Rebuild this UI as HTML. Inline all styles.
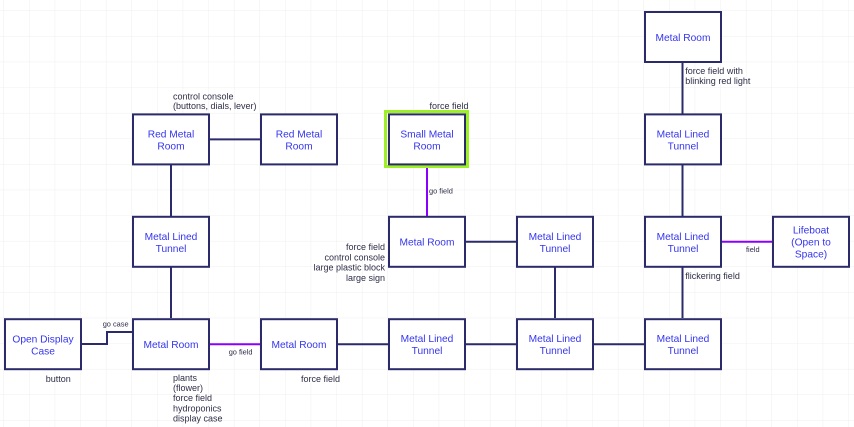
<!DOCTYPE html>
<html><head><meta charset="utf-8"><style>
html,body{margin:0;padding:0;background:#fff;}
svg{display:block;}
.bt{font-family:"Liberation Sans",Arial,sans-serif;font-size:10.2px;fill:#3434f0;text-anchor:middle;}
.lb{font-family:"Liberation Sans",Arial,sans-serif;font-size:9px;fill:#2e2e48;}
.sm{font-family:"Liberation Sans",Arial,sans-serif;font-size:7.4px;fill:#2e2e48;}
.bx{fill:#fff;stroke:#2b2b6b;stroke-width:2;}
.ln{stroke:#2b2b6b;stroke-width:2;fill:none;}
.pl{stroke:#8a00ff;stroke-width:2;fill:none;}
</style></head><body>
<svg width="854" height="427" viewBox="0 0 854 427" xmlns="http://www.w3.org/2000/svg">
<defs>
<pattern id="g" x="3.5" y="10.5" width="25.6" height="25.6" patternUnits="userSpaceOnUse">
<path d="M0 0 H25.6 M0 0 V25.6" stroke="#efefef" stroke-width="1" fill="none"/>
</pattern>
</defs>
<rect width="854" height="427" fill="#fff"/>
<rect width="854" height="427" fill="url(#g)"/>

<!-- connectors -->
<line class="ln" x1="210" y1="139.4" x2="260" y2="139.4"/>
<line class="ln" x1="171" y1="164" x2="171" y2="216"/>
<line class="ln" x1="171" y1="267" x2="171" y2="318"/>
<polyline class="ln" points="81,344 107,344 107,332 132,332"/>
<line class="pl" x1="210" y1="344.2" x2="260" y2="344.2"/>
<line class="ln" x1="337" y1="344.2" x2="388" y2="344.2"/>
<line class="ln" x1="466" y1="344.2" x2="516" y2="344.2"/>
<line class="ln" x1="594" y1="344.2" x2="644" y2="344.2"/>
<line class="ln" x1="555" y1="267" x2="555" y2="318"/>
<line class="ln" x1="466" y1="241.8" x2="516" y2="241.8"/>
<line class="pl" x1="427" y1="168" x2="427" y2="216"/>
<line class="ln" x1="682.5" y1="267" x2="682.5" y2="318"/>
<line class="pl" x1="721" y1="241.8" x2="772" y2="241.8"/>
<line class="ln" x1="682.5" y1="164" x2="682.5" y2="216"/>
<line class="ln" x1="682.5" y1="62" x2="682.5" y2="114"/>

<!-- green highlight -->
<rect x="385.5" y="111.5" width="82" height="55" fill="none" stroke="#9cf024" stroke-width="3"/>

<!-- boxes -->
<rect class="bx" x="133" y="114.4" width="76" height="50"/>
<rect class="bx" x="261" y="114.4" width="76" height="50"/>
<rect class="bx" x="389" y="114.4" width="76" height="50"/>
<rect class="bx" x="645" y="12" width="76" height="50"/>
<rect class="bx" x="645" y="114.4" width="76" height="50"/>
<rect class="bx" x="133" y="216.8" width="76" height="50"/>
<rect class="bx" x="389" y="216.8" width="76" height="50"/>
<rect class="bx" x="517" y="216.8" width="76" height="50"/>
<rect class="bx" x="645" y="216.8" width="76" height="50"/>
<rect class="bx" x="773" y="216.8" width="76" height="50"/>
<rect class="bx" x="5" y="319.2" width="76" height="50"/>
<rect class="bx" x="133" y="319.2" width="76" height="50"/>
<rect class="bx" x="261" y="319.2" width="76" height="50"/>
<rect class="bx" x="389" y="319.2" width="76" height="50"/>
<rect class="bx" x="517" y="319.2" width="76" height="50"/>
<rect class="bx" x="645" y="319.2" width="76" height="50"/>

<!-- box texts -->
<text class="bt" x="171" y="137.4">Red Metal</text><text class="bt" x="171" y="149.4">Room</text>
<text class="bt" x="299" y="137.4">Red Metal</text><text class="bt" x="299" y="149.4">Room</text>
<text class="bt" x="427" y="137.4">Small Metal</text><text class="bt" x="427" y="149.4">Room</text>
<text class="bt" x="683" y="41">Metal Room</text>
<text class="bt" x="683" y="137.4">Metal Lined</text><text class="bt" x="683" y="149.4">Tunnel</text>
<text class="bt" x="171" y="239.8">Metal Lined</text><text class="bt" x="171" y="251.8">Tunnel</text>
<text class="bt" x="427" y="245.6">Metal Room</text>
<text class="bt" x="555" y="239.8">Metal Lined</text><text class="bt" x="555" y="251.8">Tunnel</text>
<text class="bt" x="683" y="239.8">Metal Lined</text><text class="bt" x="683" y="251.8">Tunnel</text>
<text class="bt" x="811" y="233.3">Lifeboat</text><text class="bt" x="811" y="245.6">(Open to</text><text class="bt" x="811" y="257.6">Space)</text>
<text class="bt" x="43" y="342.4">Open Display</text><text class="bt" x="43" y="354.4">Case</text>
<text class="bt" x="171" y="348.2">Metal Room</text>
<text class="bt" x="299" y="348.2">Metal Room</text>
<text class="bt" x="427" y="342.2">Metal Lined</text><text class="bt" x="427" y="354.2">Tunnel</text>
<text class="bt" x="555" y="342.2">Metal Lined</text><text class="bt" x="555" y="354.2">Tunnel</text>
<text class="bt" x="683" y="342.2">Metal Lined</text><text class="bt" x="683" y="354.2">Tunnel</text>

<!-- labels -->
<text class="lb" x="173" y="99.5">control console</text>
<text class="lb" x="173" y="109">(buttons, dials, lever)</text>
<text class="lb" x="429.5" y="109">force field</text>
<text class="sm" x="429" y="193.3">go field</text>
<text class="lb" x="385" y="250" text-anchor="end">force field</text>
<text class="lb" x="385" y="260.3" text-anchor="end">control console</text>
<text class="lb" x="385" y="270.6" text-anchor="end">large plastic block</text>
<text class="lb" x="385" y="281" text-anchor="end">large sign</text>
<text class="lb" x="685.3" y="74">force field with</text>
<text class="lb" x="685.3" y="84">blinking red light</text>
<text class="lb" x="685.3" y="279">flickering field</text>
<text class="sm" x="746" y="251.8">field</text>
<text class="sm" x="102.7" y="326.5">go case</text>
<text class="sm" x="228.7" y="354.3">go field</text>
<text class="lb" x="45.7" y="382">button</text>
<text class="lb" x="173" y="381">plants</text>
<text class="lb" x="173" y="391">(flower)</text>
<text class="lb" x="173" y="400.8">force field</text>
<text class="lb" x="173" y="411.6">hydroponics</text>
<text class="lb" x="173" y="421.6">display case</text>
<text class="lb" x="301" y="382">force field</text>
</svg>
</body></html>
